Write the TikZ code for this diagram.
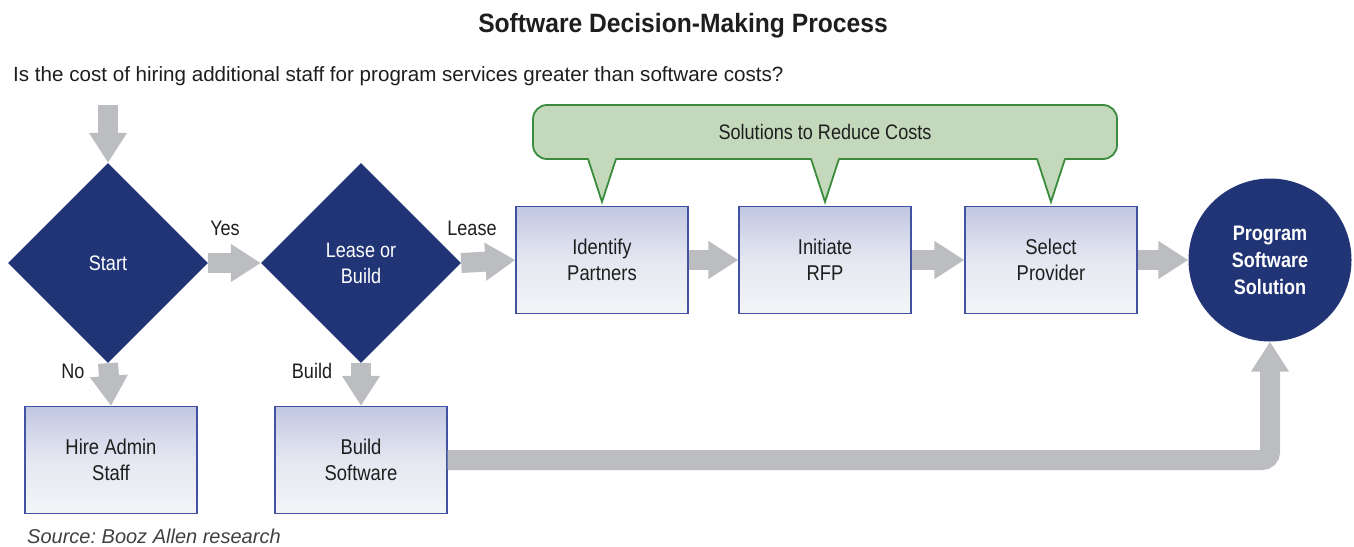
\documentclass[tikz,border=0pt]{standalone}
\usepackage{fontspec}
\setmainfont{Liberation Sans}[FakeStretch=0.86]
\newfontfamily\arialfont{Liberation Sans}
\newfontfamily\titlefont{Liberation Sans}[FakeStretch=0.93]
\usetikzlibrary{shapes.geometric,arrows.meta,calc}
\definecolor{navy}{RGB}{33,53,118}
\definecolor{arrgray}{RGB}{188,189,192}
\definecolor{boxtop}{RGB}{193,199,225}
\definecolor{boxbot}{RGB}{244,245,248}
\definecolor{boxline}{RGB}{64,82,160}
\definecolor{callfill}{RGB}{196,216,188}
\definecolor{callline}{RGB}{58,140,60}
\definecolor{txt}{RGB}{30,30,30}
\tikzset{
  dec/.style={diamond, aspect=1, minimum width=200pt, minimum height=200pt, inner sep=0pt, fill=navy, text=white, font=\fontsize{21}{26}\selectfont, align=center},
  procbox/.style={rectangle, minimum width=172pt, minimum height=107pt, draw=boxline, line width=1.3pt, top color=boxtop, bottom color=boxbot, middle color=boxbot!70!boxtop, shading angle=0, text=txt, font=\fontsize{21.4}{26}\selectfont, align=center},
  endcirc/.style={circle, minimum size=163pt, inner sep=0pt, fill=navy, text=white, font=\bfseries\fontsize{21}{27}\selectfont, align=center},
  garrow/.style={draw=arrgray, line width=20pt, -{Triangle[width=36pt,length=30pt]}},
  lbl/.style={text=txt, font=\fontsize{21}{24}\selectfont},
}
\frenchspacing
\begin{document}
\begin{tikzpicture}[x=1pt,y=-1pt]
\useasboundingbox (0,0) rectangle (1354,546);
\node[font=\titlefont\bfseries\fontsize{26.5}{30}\selectfont, text=txt] (title) at (683,26) {Software Decision-Making Process};
\node[anchor=west, inner sep=0pt, text=txt, font=\arialfont\fontsize{20.6}{24}\selectfont] (q) at (13,76) {Is the cost of hiring additional staff for program services greater than software costs?};

% callout
\fill[callfill, rounded corners=14pt] (533,105) rectangle (1117,159);
\draw[callline, line width=1.8pt, rounded corners=14pt] (533,105) rectangle (1117,159);
\node[lbl] (callt) at (825,132) {Solutions to Reduce Costs};

\node[dec] (start) at (108,263) {Start};
\node[dec] (lb) at (361,263) {Lease or\\Build};
\node[procbox] (ip) at (602,260) {Identify\\Partners};
\node[procbox] (ir) at (825,260) {Initiate\\RFP};
\node[procbox] (sp) at (1051,260) {Select\\Provider};
\node[endcirc] (pss) at (1270,260) {Program\\Software\\Solution};
\node[procbox] (has) at (111,460) {Hire Admin\\Staff};
\node[procbox] (bs) at (361,460) {Build\\Software};

% pointers
\foreach \n in {ip,ir,sp}{
  \coordinate (tip) at ($(\n.north)+(0,-4)$);
  \fill[callfill] ($(tip)+(-14,-45)$) -- (tip) -- ($(tip)+(14,-45)$) -- cycle;
  \draw[callline, line width=1.8pt] ($(tip)+(-14,-43)$) -- (tip) -- ($(tip)+(14,-43)$);
}

\coordinate (topin) at (108,105);
\draw[garrow] (topin) -- (start.north);
\draw[garrow] (start.east) -- (lb.west);
\draw[garrow] (lb.east) -- (ip.west);
\draw[garrow] (ip.east) -- (ir.west);
\draw[garrow] (ir.east) -- (sp.west);
\draw[garrow] (sp.east) -- (pss.west);
\draw[garrow] (start.south) -- (has.north);
\draw[garrow] (lb.south) -- (bs.north);
\draw[garrow, rounded corners=8pt] (bs.east) -| (pss.south);

\node[lbl] (yes) at (225,228) {Yes};
\node[lbl] (lease) at (472,228) {Lease};
\node[lbl] (no) at (73,371) {No};
\node[lbl] (build) at (312,371) {Build};

\node[anchor=west, inner sep=0pt, text=txt!85!white, font=\arialfont\itshape\fontsize{20}{24}\selectfont] (src) at (27,536) {Source: Booz Allen research};
\end{tikzpicture}
\end{document}
